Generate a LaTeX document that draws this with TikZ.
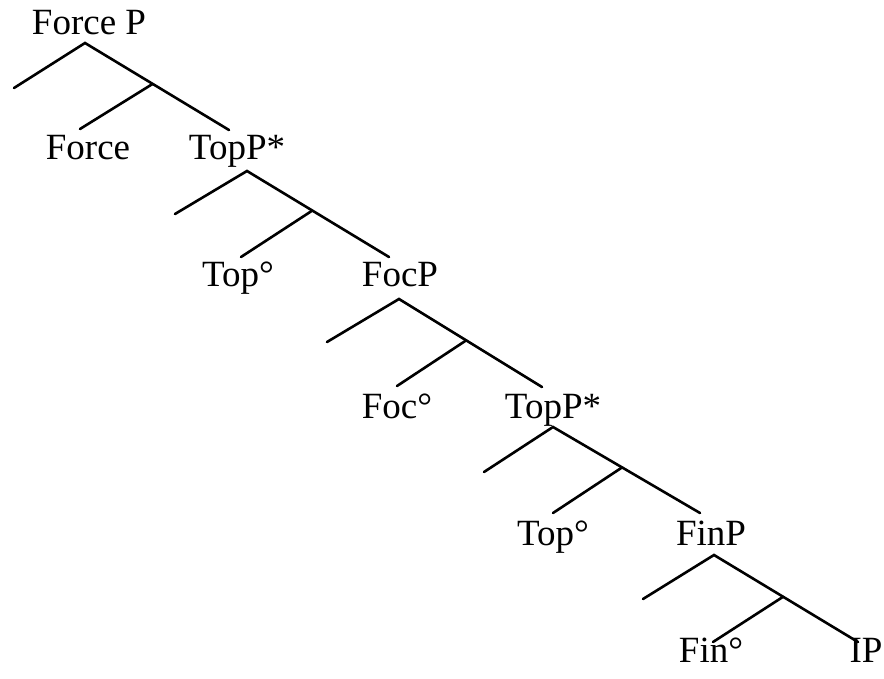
\documentclass[tikz,border=0pt]{standalone}
\usepackage{fontspec}
\setmainfont{Liberation Serif}
\usetikzlibrary{calc}

\begin{document}
\begin{tikzpicture}[
    x=1pt, y=-1pt,
    cat/.style={anchor=base, inner sep=0pt, font=\fontsize{37}{42}\selectfont},
    branch/.style={line width=2.6pt, line cap=round}
]
\useasboundingbox (0,0) rectangle (884,679);

% Labels
\node[cat] (forcep) at (89,35) {Force P};
\node[cat] (force) at (88,160) {Force};
\node[cat] (topp1) at (237,160) {TopP*};
\node[cat] (top1) at (238,287) {Top°};
\node[cat] (focp) at (400,287) {FocP};
\node[cat] (foc) at (397,418) {Foc°};
\node[cat] (topp2) at (553,418) {TopP*};
\node[cat] (top2) at (553,545) {Top°};
\node[cat] (finp) at (711,545) {FinP};
\node[cat] (fin) at (711,662) {Fin°};
\node[cat] (ip) at (866,662) {IP};

% Level 1
\coordinate (a1) at (85,43);
\coordinate (l1) at (14,88);
\coordinate (r1) at (229,130);
\coordinate (h1) at (80,129);
\coordinate (j1) at ($(a1)!0.47!(r1)$);
\draw[branch] (l1) -- (a1) -- (r1);
\draw[branch] (j1) -- (h1);

% Level 2
\coordinate (a2) at (247,171);
\coordinate (l2) at (175,214);
\coordinate (r2) at (389,257);
\coordinate (h2) at (241,257);
\coordinate (j2) at ($(a2)!0.46!(r2)$);
\draw[branch] (l2) -- (a2) -- (r2);
\draw[branch] (j2) -- (h2);

% Level 3
\coordinate (a3) at (399,299);
\coordinate (l3) at (327,342);
\coordinate (r3) at (542,387);
\coordinate (h3) at (397,386);
\coordinate (j3) at ($(a3)!0.47!(r3)$);
\draw[branch] (l3) -- (a3) -- (r3);
\draw[branch] (j3) -- (h3);

% Level 4
\coordinate (a4) at (553,427);
\coordinate (l4) at (484,472);
\coordinate (r4) at (700,513);
\coordinate (h4) at (553,513);
\coordinate (j4) at ($(a4)!0.47!(r4)$);
\draw[branch] (l4) -- (a4) -- (r4);
\draw[branch] (j4) -- (h4);

% Level 5
\coordinate (a5) at (714,555);
\coordinate (l5) at (643,599);
\coordinate (r5) at (858,642);
\coordinate (h5) at (713,642);
\coordinate (j5) at ($(a5)!0.48!(r5)$);
\draw[branch] (l5) -- (a5) -- (r5);
\draw[branch] (j5) -- (h5);

\end{tikzpicture}
\end{document}
